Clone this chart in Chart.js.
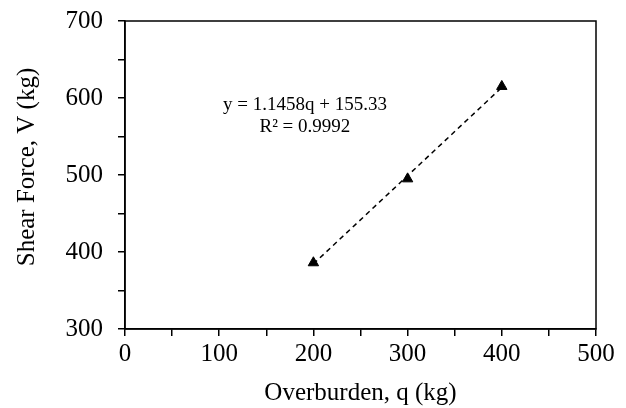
<!DOCTYPE html>
<html>
<head>
<meta charset="utf-8">
<script src="https://cdn.jsdelivr.net/npm/chart.js@4/dist/chart.umd.min.js"></script>
<style>
html,body{margin:0;padding:0;background:#fff;}
canvas{display:block;}
</style>
</head>
<body>
<canvas id="c" width="626" height="408"></canvas>
<script>
const overburden = [200, 300, 400];
const shearForce = [386, 495, 615];
const trendX = [200, 400];
const trendY = [384.5, 613.7];
const equationLines = ["y = 1.1458q + 155.33", "R\u00B2 = 0.9992"];
const equationPos = {x: 191, y: [591, 562]};
const xTitle = "Overburden, q (kg)";
const yTitle = "Shear Force, V (kg)";

const FONT = "'Liberation Serif', 'Times New Roman', serif";

const framePlugin = {
  id: 'frame',
  afterDraw(chart) {
    const {ctx, chartArea: a, scales} = chart;
    ctx.save();
    ctx.strokeStyle = '#000';
    ctx.lineWidth = 1.5;
    ctx.strokeRect(a.left, a.top, a.right - a.left, a.bottom - a.top);
    ctx.fillStyle = '#000';
    ctx.font = "19px " + FONT;
    ctx.textAlign = 'center';
    ctx.textBaseline = 'middle';
    const px = scales.x.getPixelForValue(equationPos.x);
    equationLines.forEach((t, i) => {
      ctx.fillText(t, px, scales.y.getPixelForValue(equationPos.y[i]));
    });
    // y axis title
    ctx.font = "25px " + FONT;
    ctx.translate(27, (a.top + a.bottom) / 2 - 8);
    ctx.rotate(-Math.PI / 2);
    ctx.fillText(yTitle, 0, 0);
    ctx.restore();
  }
};

new Chart(document.getElementById('c'), {
  type: 'scatter',
  data: {
    datasets: [
      {
        label: 'Trend',
        data: trendX.map((x, i) => ({x, y: trendY[i]})),
        showLine: true,
        borderColor: '#000',
        borderWidth: 1.5,
        borderDash: [5, 4],
        pointRadius: 0,
        fill: false
      },
      {
        label: 'Data',
        data: overburden.map((x, i) => ({x, y: shearForce[i]})),
        pointStyle: 'triangle',
        pointRadius: 6,
        backgroundColor: '#000',
        borderColor: '#000',
        borderWidth: 1
      }
    ]
  },
  options: {
    responsive: false,
    animation: false,
    events: [],
    layout: {padding: {left: 0, right: 30, top: 21, bottom: 0}},
    plugins: {legend: {display: false}, tooltip: {enabled: false}},
    scales: {
      x: {
        type: 'linear',
        min: 0, max: 500,
        afterFit(s) { s.height = 79; s.paddingLeft = 0; s.paddingRight = 0; },
        border: {display: true, color: '#000', width: 1.5},
        grid: {display: true, drawOnChartArea: false, drawTicks: true, tickLength: 7, color: '#000', lineWidth: 1.5},
        ticks: {
          stepSize: 50,
          autoSkip: false,
          maxRotation: 0,
          color: '#000',
          padding: 3,
          font: {family: FONT, size: 25},
          callback: v => (v % 100 === 0 ? v : '')
        },
        title: {display: true, text: xTitle, color: '#000', font: {family: FONT, size: 25}, padding: {top: 0, bottom: 0}}
      },
      y: {
        type: 'linear',
        min: 300, max: 700,
        afterFit(s) { s.width = 125; s.paddingTop = 0; s.paddingBottom = 0; },
        border: {display: true, color: '#000', width: 1.5},
        grid: {display: true, drawOnChartArea: false, drawTicks: true, tickLength: 7, color: '#000', lineWidth: 1.5},
        ticks: {
          stepSize: 50,
          autoSkip: false,
          color: '#000',
          padding: 15,
          font: {family: FONT, size: 25},
          callback: v => (v % 100 === 0 ? v : '')
        },
        title: {display: false}
      }
    }
  },
  plugins: [framePlugin]
});
</script>
</body>
</html>
